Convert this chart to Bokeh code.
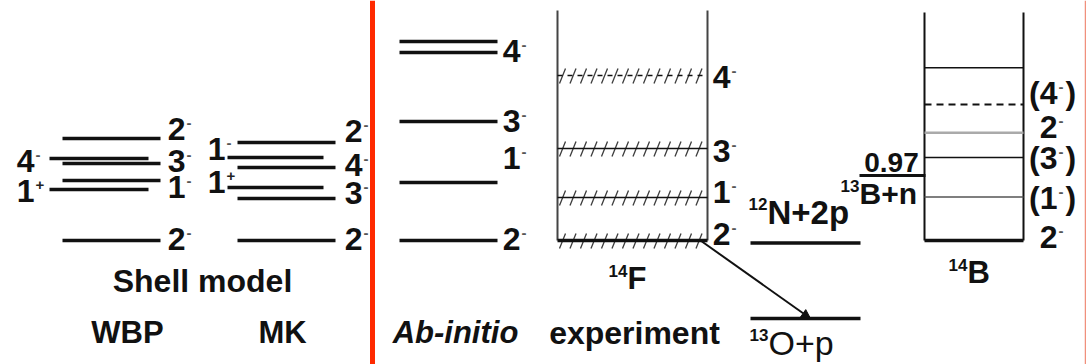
import re
import numpy as np
from bokeh.plotting import figure
from bokeh.models import Range1d, Span, Arrow, NormalHead, Label
from bokeh.core.properties import value
from bokeh.embed import file_html
from bokeh.resources import INLINE

# ---------------- level data (MeV above each ground state) ----------------
wbp_E = [0.00, 1.02, 1.20, 1.54, 1.64, 2.04]
wbp_J = ["2-", "1+", "1-", "3-", "4-", "2-"]
mk_E = [0.00, 0.84, 1.06, 1.46, 1.66, 1.96]
mk_J = ["2-", "3-", "1+", "4-", "1-", "2-"]
abi_E = [0.00, 1.16, 2.38, 3.76, 3.98]
abi_J = ["2-", "1-", "3-", "4-", "4-"]
exp_E = [0.00, 0.86, 1.84, 3.30]
exp_J = ["2-", "1-", "3-", "4-"]
b14_E = [0.00, 0.65, 1.24, 1.61, 2.03, 2.58]
b14_J = ["2-", "(1-)", "(3-)", "2-", "(4-)", ""]

# particle-emission thresholds (MeV)
thr_12N_2p = -0.05
thr_13O_p = -1.56
thr_13B_n = 0.97

# ---------------- layout ----------------
W, H = 1086, 364
GROUND_PX = 240          # screen row of the ground states
PX_F = 50.0              # pixels per MeV, 14F side
PX_B = 67.0              # pixels per MeV, 14B scheme
FONT = "Liberation Sans"
INK = "#111111"
LBL = "32px"

p = figure(width=W, height=H, output_backend="svg", toolbar_location=None,
           x_range=Range1d(0, W),
           y_range=Range1d((GROUND_PX - H) / PX_F, GROUND_PX / PX_F),
           min_border=0, background_fill_color="white", border_fill_color="white")
p.extra_y_ranges = {"b14": Range1d((GROUND_PX - H) / PX_B, GROUND_PX / PX_B)}
p.axis.visible = False
p.grid.visible = False
p.outline_line_color = None


def row_to_E(row, scale):
    return (GROUND_PX - row) / scale


def spin_label(xa, y, jp, dy, yr="default"):
    pre, num, sign, suf = re.match(r"^(\(?)(\d+)([+-])(\)?)$", jp).groups()
    kw = dict(text_font=value(FONT), text_baseline="middle", y_range_name=yr)
    p.text(x=[xa], y=[y], text=[pre + num], y_offset=dy, text_align="right",
           text_font_size=LBL, text_font_style="bold", text_color=INK, **kw)
    p.text(x=[xa + 1], y=[y], text=[sign], y_offset=dy - 6, text_align="left",
           text_font_size="15px", text_font_style="bold",
           text_color="#222222" if sign == "+" else "#555555", **kw)
    if suf:
        p.text(x=[xa + 8], y=[y], text=[suf], y_offset=dy, text_align="left",
               text_font_size=LBL, text_font_style="bold", text_color=INK, **kw)


def mass_label(xa, y, mass, rest, dy, size=31, style="bold", yr="default"):
    kw = dict(text_font=value(FONT), text_baseline="middle", y_range_name=yr,
              text_color=INK)
    p.text(x=[xa], y=[y], text=[mass], y_offset=dy - 8, text_align="right",
           text_font_size="17px", text_font_style="bold", **kw)
    p.text(x=[xa], y=[y], text=[rest], y_offset=dy, text_align="left",
           text_font_size=f"{size}px", text_font_style=style, **kw)


# ---------------- shell model columns ----------------
def shell_column(E, J, side, dy, long_x, short_x, anchor_r, anchor_l):
    xs0 = [short_x[0] if s == "L" else long_x[0] for s in side]
    xs1 = [short_x[1] if s == "L" else long_x[1] for s in side]
    p.segment(x0=xs0, y0=E, x1=xs1, y1=E, line_color=INK, line_width=3.5)
    for e, j, s, d in zip(E, J, side, dy):
        spin_label(anchor_l if s == "L" else anchor_r, e, j, d)


shell_column(wbp_E, wbp_J, ["R", "L", "R", "R", "L", "R"], [-2, 1, 6, -3, 2, -10],
             (62, 160), (49, 148), 185, 34)
shell_column(mk_E, mk_J, ["R", "R", "L", "R", "L", "R"], [-2, -6, -6, -3, -9, -12],
             (237, 335), (227, 323), 362, 225)

# ---------------- ab-initio column ----------------
p.segment(x0=[399] * len(abi_E), y0=abi_E, x1=[497] * len(abi_E), y1=abi_E,
          line_color=INK, line_width=3.5)
for e, j, d in zip(abi_E, abi_J, [-2, -25, -1, -2, None]):
    if d is not None:
        spin_label(520, e, j, d)

# ---------------- experiment (14F) ----------------
EXP_L, EXP_R = 557, 707
exp_top = row_to_E(10, PX_F)
p.segment(x0=[EXP_L, EXP_R], y0=[exp_E[0]] * 2, x1=[EXP_L, EXP_R], y1=[exp_top] * 2,
          line_color="#444444", line_width=2)

# width hatching: short slanted strokes across every measured level
tick_x = np.arange(EXP_L + 2, EXP_R - 4, 10.5)
hx0, hy0, hx1, hy1 = [], [], [], []
for e in exp_E:
    hx0 += list(tick_x)
    hx1 += list(tick_x + 6)
    hy0 += [e - 8 / PX_F] * len(tick_x)
    hy1 += [e + 7 / PX_F] * len(tick_x)
p.segment(x0=hx0, y0=hy0, x1=hx1, y1=hy1, line_color="#3c3c3c", line_width=1.3)

p.segment(x0=[EXP_L] * 2, y0=exp_E[1:3], x1=[EXP_R] * 2, y1=exp_E[1:3],
          line_color=INK, line_width=1.5)
p.segment(x0=[EXP_L], y0=[exp_E[3]], x1=[EXP_R], y1=[exp_E[3]],
          line_color=INK, line_width=1.5, line_dash="5 5")
p.segment(x0=[EXP_L], y0=[exp_E[0]], x1=[EXP_R], y1=[exp_E[0]],
          line_color=INK, line_width=3.5)
for e, j, d in zip(exp_E, exp_J, [-7, -6, 2, 1]):
    spin_label(730, e, j, d)

# decay thresholds of 14F
p.segment(x0=[750, 750], y0=[thr_12N_2p, thr_13O_p], x1=[860, 860],
          y1=[thr_12N_2p, thr_13O_p], line_color=INK, line_width=3.5)
mass_label(767, thr_12N_2p, "12", "N+2p", -31, size=33)
mass_label(768, thr_13O_p, "13", "O+p", 24, size=34, style="normal")
p.add_layout(Arrow(end=NormalHead(size=9, fill_color=INK, line_color=INK),
                   x_start=700, y_start=exp_E[0], x_end=810, y_end=thr_13O_p,
                   line_color=INK, line_width=2))

# ---------------- 14B scheme ----------------
b14_top = row_to_E(12, PX_B)
p.segment(x0=[924, 1023], y0=[b14_E[0]] * 2, x1=[924, 1023], y1=[b14_top] * 2,
          line_color=INK, line_width=2, y_range_name="b14")
b14_color = [INK, "#555555", INK, "#aaaaaa", INK, INK]
b14_width = [3.5, 1.5, 1.5, 2.5, 2, 1.5]
b14_dash = ["solid", "solid", "solid", "solid", "7 5", "solid"]
for e, c, w, ds in zip(b14_E, b14_color, b14_width, b14_dash):
    p.segment(x0=[924], y0=[e], x1=[1023], y1=[e], line_color=c, line_width=w,
              line_dash=ds, y_range_name="b14")
for e, j, d in zip(b14_E, b14_J, [-4, 1, 1, -6, -11, None]):
    if j:
        spin_label(1057, e, j, d, yr="b14")

p.segment(x0=[859], y0=[thr_13B_n], x1=[925], y1=[thr_13B_n], line_color=INK,
          line_width=3, y_range_name="b14")
p.text(x=[891], y=[thr_13B_n], text=[f"{thr_13B_n:.2f}"], y_offset=-13,
       text_align="center", text_baseline="middle", text_font=value(FONT),
       text_font_size="28px", text_font_style="bold", text_color=INK,
       y_range_name="b14")
mass_label(859, thr_13B_n, "13", "B+n", 18, size=30, yr="b14")

# ---------------- column captions ----------------
def caption(x, row, text, style="bold", size=31):
    p.add_layout(Label(x=x, y=H - row, x_units="data", y_units="screen", text=text,
                       text_align="center", text_baseline="middle",
                       text_font=FONT, text_font_size=f"{size}px",
                       text_font_style=style, text_color=INK))


caption(202, 280, "Shell model", size=32)
caption(127, 332, "WBP")
caption(282, 332, "MK")
caption(455, 332, "Ab-initio", style="bold italic")
caption(634, 332, "experiment", size=32)

for xa, row, m, r in [(627, 278, "14", "F"), (967, 272, "14", "B")]:
    p.add_layout(Label(x=xa, y=H - row + 8, y_units="screen", text=m,
                       text_align="right", text_baseline="middle", text_font=FONT,
                       text_font_size="17px", text_font_style="bold", text_color=INK))
    p.add_layout(Label(x=xa, y=H - row, y_units="screen", text=r,
                       text_align="left", text_baseline="middle", text_font=FONT,
                       text_font_size="31px", text_font_style="bold", text_color=INK))

# separators
p.add_layout(Span(location=372, dimension="height", line_color="#ff2a00", line_width=5))
p.add_layout(Span(location=1085, dimension="height", line_color="#f0907c", line_width=1.5))

open("out.html", "w").write(file_html(p, INLINE))
